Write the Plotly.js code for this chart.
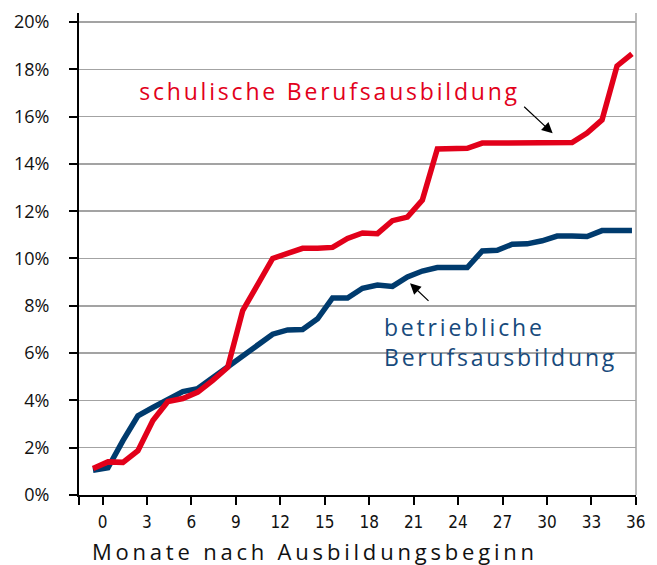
<!DOCTYPE html>
<html>
<head>
<meta charset="utf-8">
<script src="https://cdn.plot.ly/plotly-3.0.1.min.js"></script>
<style>
  html, body { margin: 0; padding: 0; background: #fff; }
  #chart { width: 657px; height: 565px; }
  g.annotation[data-index="0"] text, g.annotation[data-index="1"] text { letter-spacing: 2.8px; }
  g.annotation[data-index="2"] text { letter-spacing: 3.8px; }
</style>
</head>
<body>
<div id="chart"></div>
<script>
// Months after start of training (0..36)
const months = [0,1,2,3,4,5,6,7,8,9,10,11,12,13,14,15,16,17,18,19,20,21,22,23,24,25,26,27,28,29,30,31,32,33,34,35,36];
// schulische Berufsausbildung (%)
const schulisch = [1.12,1.40,1.38,1.87,3.15,3.95,4.08,4.35,4.85,5.40,7.80,8.90,10.00,10.22,10.43,10.43,10.47,10.85,11.08,11.05,11.60,11.75,12.47,14.63,14.64,14.66,14.88,14.88,14.88,14.88,14.89,14.90,14.90,15.30,15.86,18.14,18.65];
// betriebliche Berufsausbildung (%)
const betrieblich = [1.05,1.15,2.30,3.35,3.70,4.05,4.37,4.50,4.95,5.40,5.90,6.35,6.80,6.98,7.00,7.45,8.33,8.33,8.74,8.88,8.82,9.22,9.47,9.62,9.62,9.62,10.32,10.35,10.60,10.62,10.75,10.95,10.95,10.93,11.18,11.18,11.18];
// Axis labels
const xTickLabels = ['0','3','6','9','12','15','18','21','24','27','30','33','36'];
const yTickValues = [0,2,4,6,8,10,12,14,16,18,20];
const yTickLabels = ['0%','2%','4%','6%','8%','10%','12%','14%','16%','18%','20%'];
const xTitle = 'Monate nach Ausbildungsbeginn';
const labelSchulisch = 'schulische Berufsausbildung';
const labelBetrieblich = 'betriebliche<br>Berufsausbildung';

const RED = '#e2001a';
const BLUE = '#003b6e';
const GRID = '#a3a3a3';

const traces = [
  { x: months, y: betrieblich, type: 'scatter', mode: 'lines',
    line: { color: BLUE, width: 5.5 }, hoverinfo: 'skip', showlegend: false },
  { x: months, y: schulisch, type: 'scatter', mode: 'lines',
    line: { color: RED, width: 5.5 }, hoverinfo: 'skip', showlegend: false }
];

// The data sit on a month scale; the printed tick labels sit on a slightly
// different (category) scale in the original. Map the label scale onto the data axis.
const dataRange = [-0.935, 36.27];
const labelRange = [-1.586, 36.01];
const toData = t => dataRange[0] + (t - labelRange[0]) / (labelRange[1] - labelRange[0]) * (dataRange[1] - dataRange[0]);
const xTickVals = [labelRange[0]].concat(xTickLabels.map(Number)).map(toData);
xTickVals[0] = dataRange[0];

const layout = {
  width: 657, height: 565,
  margin: { l: 79, r: 21, t: 13, b: 70, pad: 0 },
  paper_bgcolor: '#ffffff', plot_bgcolor: '#ffffff',
  font: { family: 'Open Sans, Noto Sans, sans-serif', color: '#111111' },
  showlegend: false,
  xaxis: {
    range: dataRange,
    tickmode: 'array',
    tickvals: xTickVals,
    ticktext: [''].concat(xTickLabels),
    ticks: 'outside', ticklen: 8, tickwidth: 2, tickcolor: '#000',
    showline: true, linecolor: '#000', linewidth: 2,
    showgrid: false, zeroline: false,
    ticklabelstandoff: 3,
    tickfont: { family: 'Liberation Sans Narrow, DejaVu Sans Condensed, Roboto, sans-serif', size: 17, color: '#111111' },
    fixedrange: true
  },
  yaxis: {
    range: [0, 20.38],
    tickmode: 'array', tickvals: yTickValues, ticktext: yTickLabels,
    ticks: 'outside', ticklen: 8, tickwidth: 2, tickcolor: '#000',
    showline: true, linecolor: '#000', linewidth: 2,
    showgrid: true, gridcolor: GRID, gridwidth: 1.5,
    zeroline: false,
    ticklabelstandoff: 16,
    tickfont: { family: 'Open Sans, sans-serif', size: 18, color: '#111111' },
    fixedrange: true
  },
  shapes: [
    { type: 'line', xref: 'paper', yref: 'paper', x0: 1, x1: 1, y0: 0, y1: 1,
      line: { color: GRID, width: 1.5 } },
    { type: 'rect', xref: 'paper', yref: 'paper', x0: 0.088, x1: 0.8187, y0: 0.7676, y1: 0.9025,
      fillcolor: '#ffffff', line: { width: 0 }, layer: 'between' },
    { type: 'rect', xref: 'paper', yref: 'paper', x0: 0.4919, x1: 0.9731, y0: 0.276, y1: 0.4046,
      fillcolor: '#ffffff', line: { width: 0 }, layer: 'between' }
  ],
  annotations: [
    { text: labelSchulisch, xref: 'paper', yref: 'paper', x: 0.172, y: 0.838,
      xanchor: 'left', yanchor: 'middle', showarrow: false,
      font: { family: 'Open Sans, sans-serif', size: 23, color: RED } },
    { text: labelBetrieblich, xref: 'paper', yref: 'paper', x: 0.544, y: 0.317,
      xanchor: 'left', yanchor: 'middle', align: 'left', showarrow: false,
      font: { family: 'Open Sans, sans-serif', size: 23, color: '#174a7c' } },
    { text: xTitle, xref: 'paper', yref: 'paper', x: 0.1187, y: -0.117,
      xanchor: 'left', yanchor: 'middle', showarrow: false,
      font: { family: 'Open Sans, sans-serif', size: 22, color: '#111111' } },
    { text: '', xref: 'paper', yref: 'paper', x: 0.8504, y: 0.7504,
      showarrow: true, ax: -30, ay: -28, arrowhead: 2, arrowsize: 1.8, arrowwidth: 1.2,
      arrowcolor: '#000', standoff: 0 },
    { text: '', xref: 'paper', yref: 'paper', x: 0.5943, y: 0.4392,
      showarrow: true, ax: 20, ay: 19, arrowhead: 2, arrowsize: 1.8, arrowwidth: 1.2,
      arrowcolor: '#000', standoff: 0 }
  ]
};

Plotly.newPlot('chart', traces, layout, { displayModeBar: false, staticPlot: true });
</script>
</body>
</html>
